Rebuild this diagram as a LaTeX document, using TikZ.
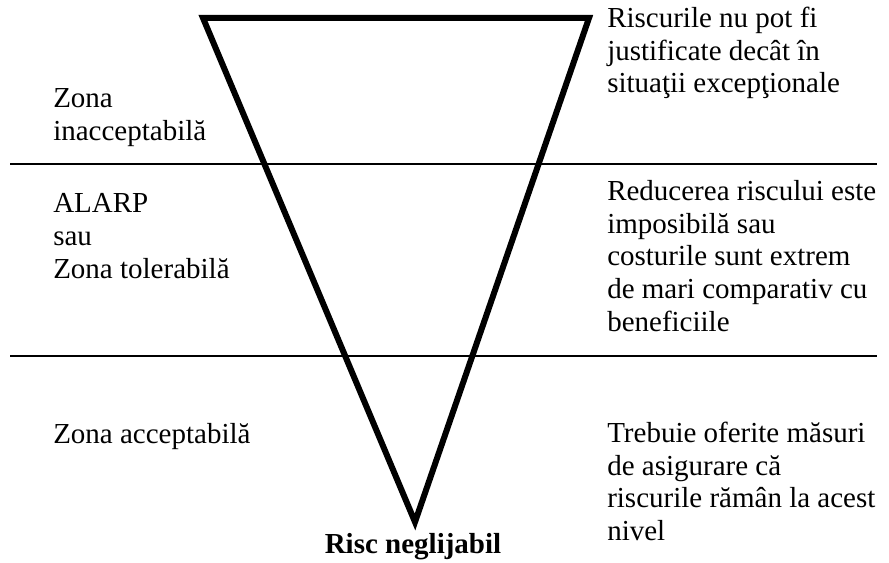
\documentclass[tikz,border=0pt]{standalone}
\usepackage{fontspec}
\setmainfont{Liberation Serif}
\begin{document}
\begin{tikzpicture}[x=0.75pt,y=-0.75pt,
  txt/.style={anchor=base west,inner sep=0pt,align=left,
    font=\fontsize{21.75}{24.4}\selectfont},
  band/.style={line width=1.5pt},
  tri/.style={line width=4.5pt,line join=miter}]
\useasboundingbox (0,0) rectangle (889,563);
% triangle corners
\coordinate (tl) at (203,18);
\coordinate (tr) at (589,18);
\coordinate (ap) at (415,522);
% band lines
\coordinate (l1a) at (10,164);
\coordinate (l1b) at (877,164);
\coordinate (l2a) at (10,356);
\coordinate (l2b) at (877,356);
\draw[band] (l1a) -- (l1b);
\draw[band] (l2a) -- (l2b);
\draw[tri] (tl) -- (tr) -- (ap) -- cycle;
% left labels (anchored at baseline of last line)
\node[txt] (zi) at (53,140.5) {Zona\\inacceptabilă};
\node[txt] (zt) at (53,278) {ALARP\\sau\\Zona tolerabilă};
\node[txt] (za) at (53,443) {Zona acceptabilă};
% right texts
\node[txt] (r1) at (607,93) {Riscurile nu pot fi\\justificate decât în\\situaţii excepţionale};
\node[txt] (r2) at (607,331) {Reducerea riscului este\\imposibilă sau\\costurile sunt extrem\\de mari comparativ cu\\beneficiile};
\node[txt] (r3) at (607,540.5) {Trebuie oferite măsuri\\de asigurare că\\riscurile rămân la acest\\nivel};
% bottom
\node[anchor=base,inner sep=0pt,font=\fontsize{21.75}{24.4}\selectfont\bfseries] (rn) at (413,553) {Risc neglijabil};
\end{tikzpicture}
\end{document}
